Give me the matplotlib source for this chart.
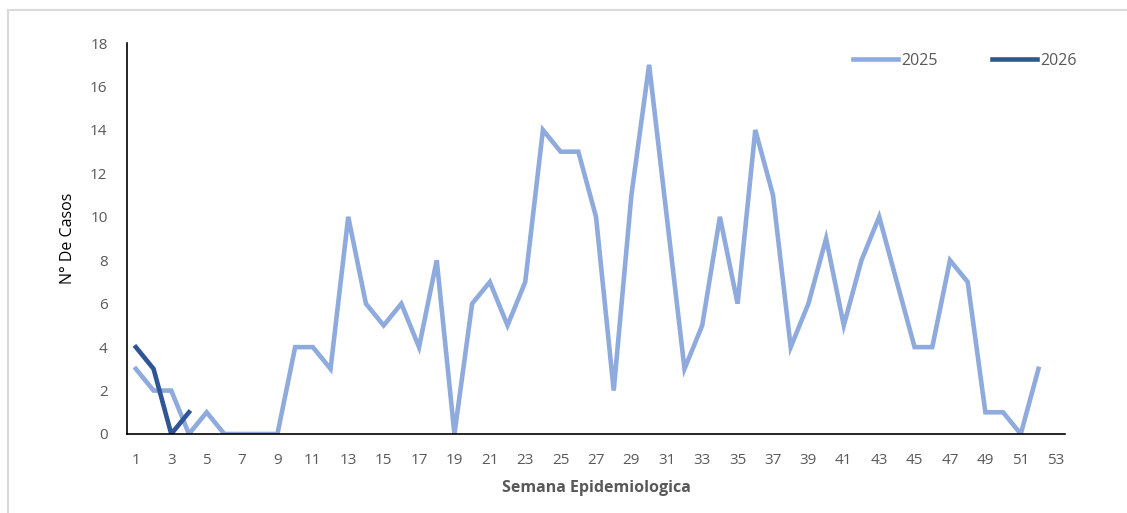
import matplotlib.pyplot as plt
from matplotlib.patches import Rectangle

# weekly case counts
semanas_2025 = list(range(1, 53))
casos_2025 = [3, 2, 2, 0, 1, 0, 0, 0, 0, 4, 4, 3, 10, 6, 5, 6, 4, 8, 0, 6,
              7, 5, 7, 14, 13, 13, 10, 2, 11, 17, 10, 3, 5, 10, 6, 14, 11, 4, 6, 9,
              5, 8, 10, 7, 4, 4, 8, 7, 1, 1, 0, 3]
semanas_2026 = [1, 2, 3, 4]
casos_2026 = [4, 3, 0, 1]
ticks_x = list(range(1, 54, 2))
ticks_y = list(range(0, 19, 2))

plt.rcParams['font.family'] = ['Open Sans', 'DejaVu Sans']

fig = plt.figure(figsize=(11.27, 5.13), dpi=100)
ax = fig.add_axes([0.1127, 0.154, 0.8323, 0.762])

# light grey chart border
fig.patches.append(Rectangle((8 / 1127, -0.1), 1.2, 1 - 10 / 513 + 0.1,
                             transform=fig.transFigure, fill=False,
                             edgecolor='#d9d9d9', linewidth=1.5))

ax.plot(semanas_2025, casos_2025, color='#8faadc', linewidth=3.3,
        solid_joinstyle='miter', label='2025')
ax.plot(semanas_2026, casos_2026, color='#2f5597', linewidth=3.3,
        solid_joinstyle='miter', label='2026')

ax.set_xlim(0.5, 53.5)
ax.set_ylim(0, 18)
ax.set_xticks(ticks_x)
ax.set_yticks(ticks_y)
ax.tick_params(length=0, colors='#595959', labelsize=11)
ax.tick_params(axis='x', pad=14)
ax.tick_params(axis='y', pad=14)

for s in ['top', 'right']:
    ax.spines[s].set_visible(False)
for s in ['left', 'bottom']:
    ax.spines[s].set_color('black')
    ax.spines[s].set_linewidth(1.2)

ax.set_xlabel('Semana Epidemiologica', fontsize=11.5, fontweight='bold',
              color='#595959', labelpad=8)
ax.set_ylabel('N° De Casos', fontsize=11.5, color='black', labelpad=10)

leg = fig.legend(loc='center', bbox_to_anchor=(0.856, 0.882), ncol=2,
                 frameon=False, fontsize=11.5, handlelength=2.8,
                 columnspacing=3.4, handletextpad=0.2)
for t in leg.get_texts():
    t.set_color('#595959')

fig.savefig('out.png', dpi=100)
